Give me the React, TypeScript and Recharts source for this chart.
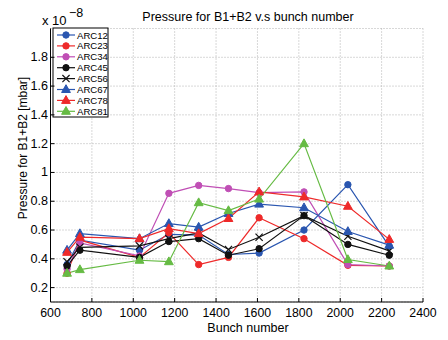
import React from "react";
import {
  LineChart,
  Line,
  XAxis,
  YAxis,
  CartesianGrid,
  Customized,
} from "recharts";

const bunch = [680, 742, 1030, 1172, 1316, 1460, 1608, 1825, 2037, 2237];

const arc12 = [0.36, 0.53, 0.46, 0.57, 0.565, 0.43, 0.44, 0.6, 0.915, 0.487];
const arc23 = [0.3, 0.53, 0.41, 0.58, 0.36, 0.41, 0.685, 0.54, 0.355, 0.35];
const arc34 = [0.33, 0.51, 0.42, 0.855, 0.91, 0.888, 0.86, 0.865, 0.36, 0.35];
const arc45 = [0.35, 0.46, 0.41, 0.52, 0.54, 0.425, 0.47, 0.7, 0.5, 0.425];
const arc56 = [0.38, 0.48, 0.49, 0.54, 0.58, 0.465, 0.55, 0.7, 0.557, 0.455];
const arc67 = [0.46, 0.575, 0.54, 0.645, 0.62, 0.715, 0.78, 0.755, 0.59, 0.495];
const arc78 = [0.445, 0.55, 0.54, 0.61, 0.575, 0.68, 0.865, 0.83, 0.765, 0.535];
const arc81 = [0.3, 0.325, 0.39, 0.38, 0.79, 0.735, 0.815, 1.2, 0.395, 0.35];

const xTicks = [600, 800, 1000, 1200, 1400, 1600, 1800, 2000, 2200, 2400];
const yTicks = [0.2, 0.4, 0.6, 0.8, 1.0, 1.2, 1.4, 1.6, 1.8];

const FONT = "'Liberation Sans', Arial, Helvetica, sans-serif";

const series = [
  { key: "ARC12", values: arc12, color: "#2a56b0", marker: "circle" },
  { key: "ARC23", values: arc23, color: "#ee2a2a", marker: "circle" },
  { key: "ARC34", values: arc34, color: "#c04fb5", marker: "circle" },
  { key: "ARC45", values: arc45, color: "#111111", marker: "circle" },
  { key: "ARC56", values: arc56, color: "#111111", marker: "x" },
  { key: "ARC67", values: arc67, color: "#2a56b0", marker: "triangle" },
  { key: "ARC78", values: arc78, color: "#ee2a2a", marker: "triangle" },
  { key: "ARC81", values: arc81, color: "#66bb44", marker: "triangle" },
];

const data = bunch.map((b, i) => {
  const row: Record<string, number> = { bunch: b };
  series.forEach((s) => {
    row[s.key] = s.values[i];
  });
  return row;
});

function marker(kind: string, cx: number, cy: number, color: string, key?: string) {
  if (kind === "circle") {
    return <circle key={key} cx={cx} cy={cy} r={3.2} fill={color} stroke={color} />;
  }
  if (kind === "triangle") {
    return (
      <polygon
        key={key}
        points={`${cx},${cy - 4.8} ${cx - 4.4},${cy + 3} ${cx + 4.4},${cy + 3}`}
        fill={color}
        stroke={color}
      />
    );
  }
  return (
    <g key={key}>
      <line x1={cx - 3.6} y1={cy - 3.6} x2={cx + 3.6} y2={cy + 3.6} stroke={color} strokeWidth={1.2} />
      <line x1={cx - 3.6} y1={cy + 3.6} x2={cx + 3.6} y2={cy - 3.6} stroke={color} strokeWidth={1.2} />
    </g>
  );
}

const XTick = (props: any) => {
  const { x, y, payload } = props;
  return (
    <g>
      <line x1={x} x2={x} y1={y} y2={y - 4} stroke="#000" />
      <text x={x} y={y + 15} textAnchor="middle" fontSize={12.3} fontFamily={FONT} fill="#000">
        {payload.value}
      </text>
    </g>
  );
};

const YTick = (props: any) => {
  const { x, y, payload } = props;
  const v = Number(payload.value);
  return (
    <g>
      <line x1={x} x2={x + 4} y1={y} y2={y} stroke="#000" />
      <text x={x - 2.5} y={y + 4} textAnchor="end" fontSize={12.6} fontFamily={FONT} fill="#000">
        {v === 1 ? "1" : v.toFixed(1)}
      </text>
    </g>
  );
};

const TopTick = (props: any) => {
  const { x, y } = props;
  return <line x1={x} x2={x} y1={y} y2={y + 4} stroke="#000" />;
};

const RightTick = (props: any) => {
  const { x, y } = props;
  return <line x1={x} x2={x - 4} y1={y} y2={y} stroke="#000" />;
};

const Labels = () => {
  const lx = 53;
  const ly = 28;
  const rowH = 10.9;
  return (
    <g fontFamily={FONT}>
      <text x={248} y={20.5} textAnchor="middle" fontSize={12.5} fill="#000">
        Pressure for B1+B2 v.s bunch number
      </text>
      <text x={248} y={332} textAnchor="middle" fontSize={12.5} fill="#000">
        Bunch number
      </text>
      <text
        x={23}
        y={148}
        textAnchor="middle"
        fontSize={12}
        fill="#000"
        transform="rotate(-90 23 148)"
        dominantBaseline="central"
      >
        Pressure for B1+B2 [mbar]
      </text>
      <text x={42} y={25} fontSize={13} fill="#000">
        x 10
      </text>
      <text x={69} y={16.5} fontSize={12.5} fill="#000">
        −8
      </text>
      <rect x={lx} y={ly} width={55} height={89} fill="#fff" stroke="#000" strokeWidth={1} />
      {series.map((s, i) => {
        const cy = ly + 7 + i * rowH;
        return (
          <g key={s.key}>
            <line x1={lx + 4} x2={lx + 22} y1={cy} y2={cy} stroke={s.color} strokeWidth={1.2} />
            {marker(s.marker, lx + 13, cy, s.color)}
            <text x={lx + 24} y={cy + 3.5} fontSize={9.6} fill="#000">
              {s.key}
            </text>
          </g>
        );
      })}
    </g>
  );
};

export default function App() {
  return (
    <div style={{ position: "absolute", left: 0, top: 0, width: 448, height: 340, background: "#fff" }}>
      <LineChart
        width={448}
        height={340}
        data={data}
        margin={{ top: 28.5, right: 25, left: 0, bottom: 0 }}
      >
        <CartesianGrid stroke="#b0b0b0" strokeDasharray="1 2" />
        <XAxis
          dataKey="bunch"
          type="number"
          domain={[600, 2400]}
          ticks={xTicks}
          height={38}
          tickSize={0}
          tickMargin={0}
          tick={<XTick />}
          axisLine={{ stroke: "#000" }}
          interval={0}
        />
        <XAxis
          xAxisId="top"
          orientation="top"
          dataKey="bunch"
          type="number"
          domain={[600, 2400]}
          ticks={xTicks}
          height={0}
          tickSize={0}
          tickMargin={0}
          tick={<TopTick />}
          axisLine={{ stroke: "#000" }}
          interval={0}
        />
        <YAxis
          type="number"
          domain={[0.1, 2.0]}
          ticks={yTicks}
          width={50.5}
          tickSize={0}
          tickMargin={0}
          tick={<YTick />}
          axisLine={{ stroke: "#000" }}
          interval={0}
          allowDataOverflow
        />
        <YAxis
          yAxisId="right"
          orientation="right"
          type="number"
          domain={[0.1, 2.0]}
          ticks={yTicks}
          width={0}
          tickSize={0}
          tickMargin={0}
          tick={<RightTick />}
          axisLine={{ stroke: "#000" }}
          interval={0}
          allowDataOverflow
        />
        {series.map((s) => (
          <Line
            key={s.key}
            dataKey={s.key}
            stroke={s.color}
            strokeWidth={1.2}
            isAnimationActive={false}
            dot={(p: any) => marker(s.marker, p.cx, p.cy, s.color, `${s.key}-${p.index}`)}
            activeDot={false}
          />
        ))}
        <Customized component={<Labels />} />
      </LineChart>
    </div>
  );
}
